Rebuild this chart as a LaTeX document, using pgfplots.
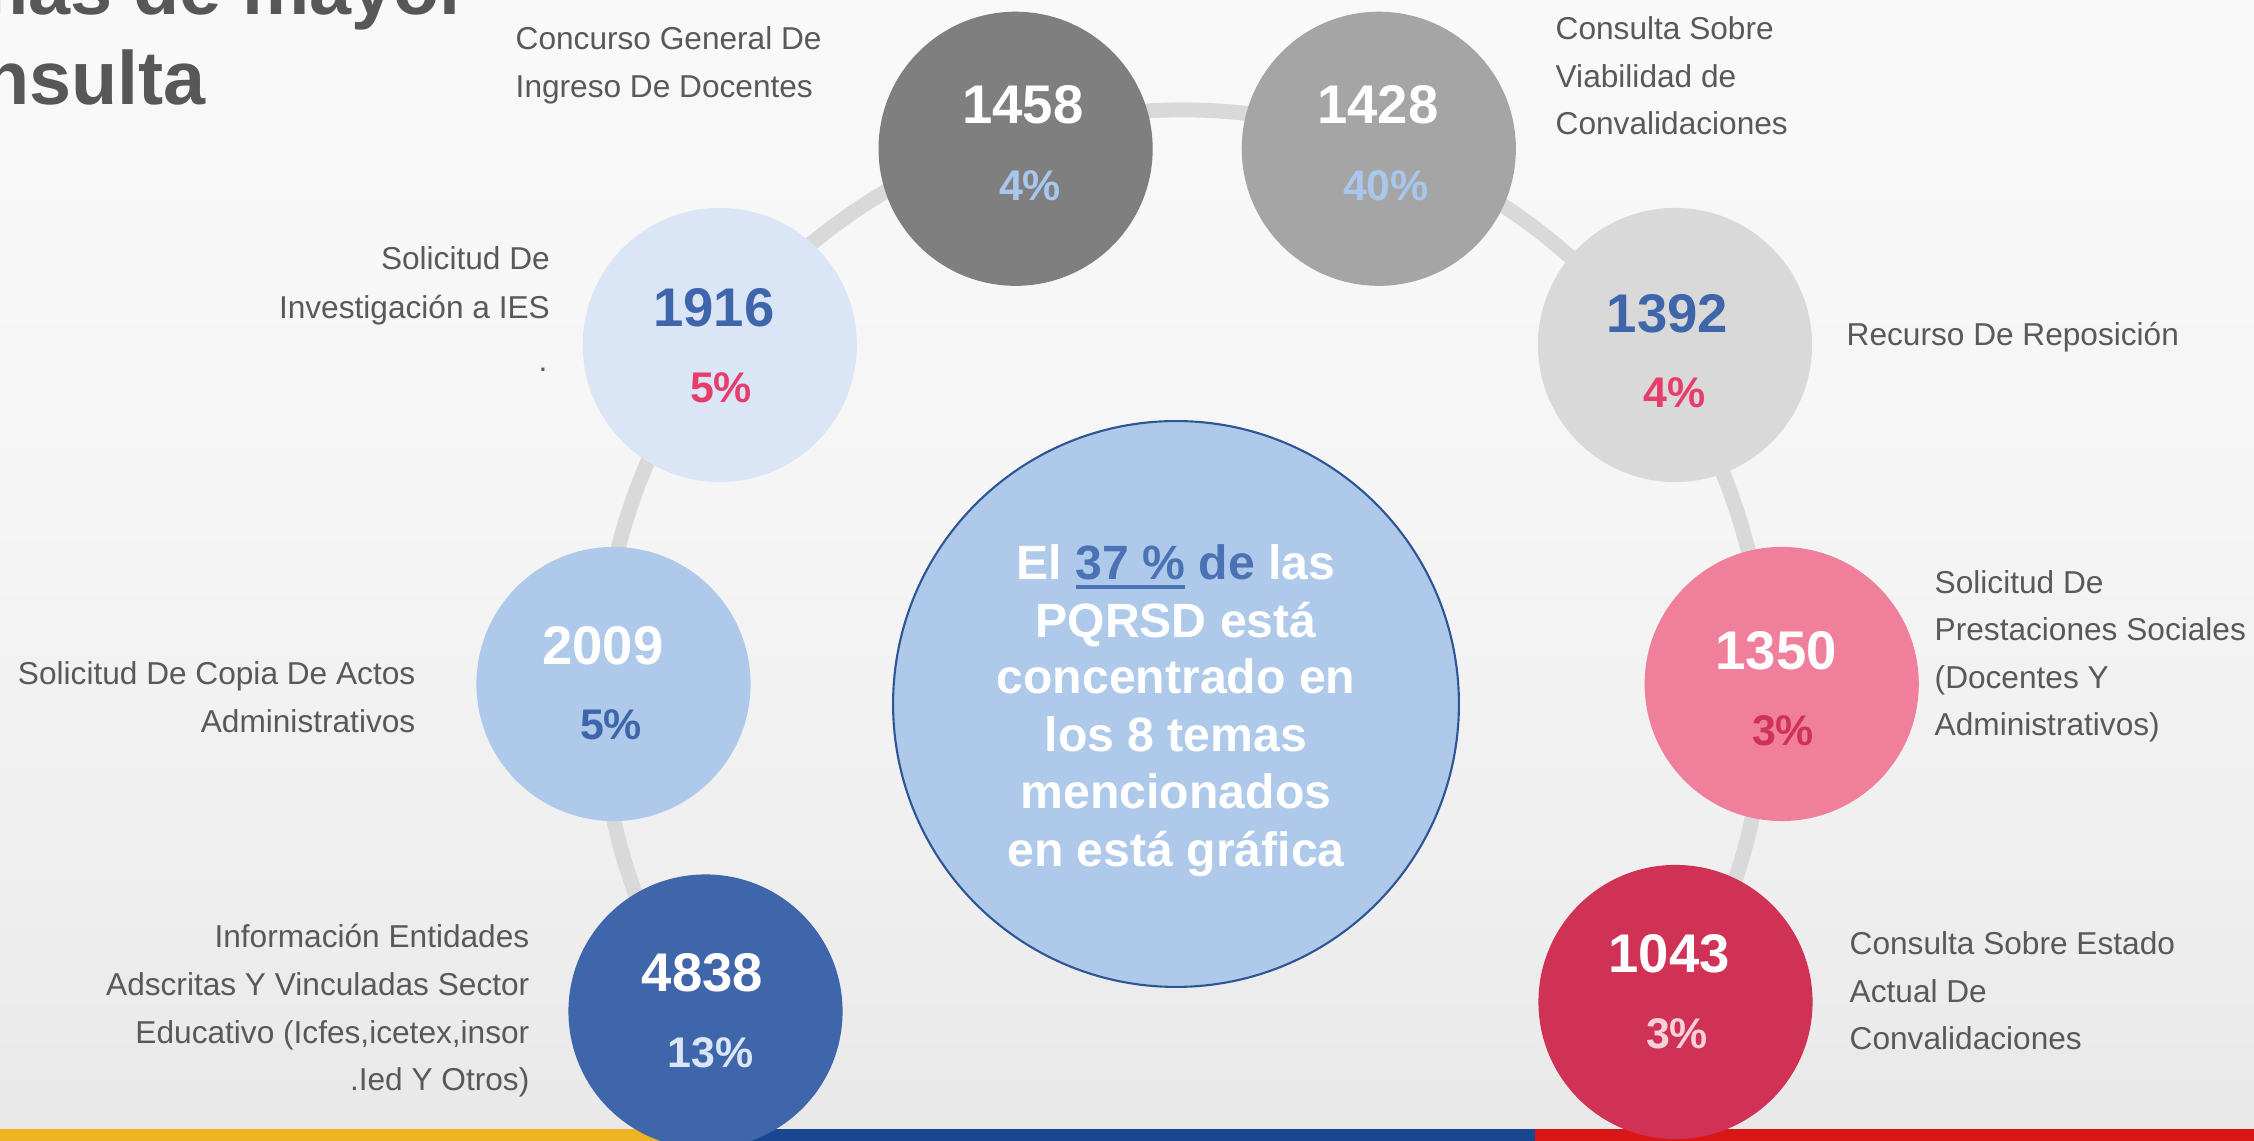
\documentclass[border=0pt]{standalone}
\usepackage{fontspec}
\setmainfont{Liberation Sans}
\usepackage{pgfplots}
\pgfplotsset{compat=1.18}

\definecolor{c1458}{HTML}{7F7F7F}
\definecolor{c1428}{HTML}{A5A5A5}
\definecolor{c1392}{HTML}{D9D9D9}
\definecolor{c1350}{HTML}{F07F9B}
\definecolor{c1043}{HTML}{D03256}
\definecolor{c4838}{HTML}{3F65AA}
\definecolor{c2009}{HTML}{AEC9EA}
\definecolor{c1916}{HTML}{DAE6F5}
\definecolor{ctrfill}{HTML}{AEC9EA}
\definecolor{ctrdraw}{HTML}{2F5597}
\definecolor{ringc}{HTML}{D9D9D9}
\definecolor{pctlb}{HTML}{A9C6EC}
\definecolor{pinkc}{HTML}{E83C6C}
\definecolor{crimc}{HTML}{D03256}
\definecolor{lpink}{HTML}{F8D0DC}
\definecolor{vlblue}{HTML}{DAE6F5}
\definecolor{bluec}{HTML}{3F65AA}
\definecolor{ctrblue}{HTML}{4A72B5}
\definecolor{lblc}{HTML}{595959}
\definecolor{titc}{HTML}{575757}
\definecolor{syel}{HTML}{EFB321}
\definecolor{sblu}{HTML}{1A4590}
\definecolor{sred}{HTML}{D91616}
\definecolor{bgA}{HTML}{D4D4D4}
\definecolor{bgB}{HTML}{DCDCDC}
\definecolor{bgC}{HTML}{E6E6E6}
\definecolor{bgD}{HTML}{EEEEEE}
\definecolor{bgE}{HTML}{F5F5F5}
\definecolor{bgF}{HTML}{F9F9F9}
\definecolor{bgG}{HTML}{FBFBFB}

% 100bp x 100bp shading, stretched over the picture (stops: 0,10,25,40,60,85,114.1 mm)
\pgfdeclareverticalshading{bgv}{100bp}{color(0bp)=(bgA); color(8.76bp)=(bgB); color(21.9bp)=(bgC); color(35.1bp)=(bgD); color(52.6bp)=(bgE); color(74.5bp)=(bgF); color(100bp)=(bgG)}

\newcommand\lblfont{\fontsize{9}{11}\selectfont}
\newcommand\numfont{\fontsize{15.5}{18}\selectfont\bfseries}
\newcommand\pctfont{\fontsize{12.2}{14}\selectfont\bfseries}
\newcommand\ctrfont{\fontsize{13.7}{16.3}\selectfont\bfseries}
\newcommand\titfont{\fontsize{21.5}{25}\selectfont\bfseries}
\newcommand\ul[1]{\vtop{\hbox{#1}\kern1.2pt\hrule height 1.3pt}}

\tikzset{
  lbl/.style={inner sep=0pt, font=\lblfont, text=lblc},
  num/.style={inner sep=0pt, font=\numfont, anchor=center},
  pct/.style={inner sep=0pt, font=\pctfont, anchor=center},
  ctr/.style={inner sep=0pt, font=\ctrfont, text=white, anchor=base}
}

\begin{document}
\begin{tikzpicture}
\fill[shading=bgv] (0,0) rectangle (225.4mm,114.1mm);
\begin{axis}[set layers, at={(0,0)}, anchor=south west, width=225.4mm, height=114.1mm,
  scale only axis, xmin=0, xmax=2254, ymin=0, ymax=1141, y dir=reverse,
  hide axis, clip=true]

% bottom stripes
\addplot[fill=syel, draw=none] coordinates {(0,1129) (719,1129) (719,1142) (0,1142)} -- cycle;
\addplot[fill=sblu, draw=none] coordinates {(719,1129) (1535,1129) (1535,1142) (719,1142)} -- cycle;
\addplot[fill=sred, draw=none] coordinates {(1535,1129) (2255,1129) (2255,1142) (1535,1142)} -- cycle;

% connecting ring (arc from the 4838 circle over the top to the 1043 circle)
\draw[ringc, line width=4.25pt] (axis cs:697.9,1016.4) arc[start angle=213.7, end angle=-32.1, radius=58.3mm];

% topic circles
\addplot[only marks, mark=*, mark size=38.8pt, color=c1458] coordinates {(1015.6,148.8)};
\addplot[only marks, mark=*, mark size=38.8pt, color=c1428] coordinates {(1378.8,148.8)};
\addplot[only marks, mark=*, mark size=38.8pt, color=c1392] coordinates {(1675,345)};
\addplot[only marks, mark=*, mark size=38.8pt, color=c1350] coordinates {(1781.7,684)};
\addplot[only marks, mark=*, mark size=38.8pt, color=c1043] coordinates {(1675.5,1002)};
\addplot[only marks, mark=*, mark size=38.8pt, color=c4838] coordinates {(705.5,1011.5)};
\addplot[only marks, mark=*, mark size=38.8pt, color=c2009] coordinates {(613.5,684)};
\addplot[only marks, mark=*, mark size=38.8pt, color=c1916] coordinates {(719.8,345)};

% central circle
\addplot[only marks, mark=*, mark size=80.5pt, mark options={fill=ctrfill, draw=ctrdraw, line width=0.6pt}] coordinates {(1176,704)};

\begin{pgfonlayer}{axis foreground}
% numbers and percentages
\node[num, text=white] at (axis cs:1023,104.5) {1458};
\node[pct, text=pctlb] at (axis cs:1030,185.5) {4\%};
\node[num, text=white] at (axis cs:1378,104.5) {1428};
\node[pct, text=pctlb] at (axis cs:1386,185.5) {40\%};
\node[num, text=bluec] at (axis cs:1667.5,314) {1392};
\node[pct, text=pinkc] at (axis cs:1674.7,392.4) {4\%};
\node[num, text=white] at (axis cs:1776,651) {1350};
\node[pct, text=crimc] at (axis cs:1783,731) {3\%};
\node[num, text=white] at (axis cs:1669,954) {1043};
\node[pct, text=lpink] at (axis cs:1677,1033.7) {3\%};
\node[num, text=white] at (axis cs:702.4,973.3) {4838};
\node[pct, text=vlblue] at (axis cs:710.4,1052.8) {13\%};
\node[num, text=white] at (axis cs:603,646) {2009};
\node[pct, text=bluec] at (axis cs:611,725) {5\%};
\node[num, text=bluec] at (axis cs:714,308) {1916};
\node[pct, text=pinkc] at (axis cs:721,388) {5\%};

% central text
\node[ctr] at (axis cs:1176,579.9) {El {\color{ctrblue}\ul{37 \%} de} las};
\node[ctr] at (axis cs:1176,637.3) {PQRSD está};
\node[ctr] at (axis cs:1176,694) {concentrado en};
\node[ctr] at (axis cs:1176,751.5) {los 8 temas};
\node[ctr] at (axis cs:1176,809) {mencionados};
\node[ctr] at (axis cs:1176,866.1) {en está gráfica};

% labels, right side (left aligned)
\node[lbl, anchor=base west] at (axis cs:515,50) {Concurso General De};
\node[lbl, anchor=base west] at (axis cs:515,97.7) {Ingreso De Docentes};
\node[lbl, anchor=base west] at (axis cs:1555,40) {Consulta Sobre};
\node[lbl, anchor=base west] at (axis cs:1555,87.7) {Viabilidad de};
\node[lbl, anchor=base west] at (axis cs:1555,135) {Convalidaciones};
\node[lbl, anchor=base west] at (axis cs:1846,345.7) {Recurso De Reposición};
\node[lbl, anchor=base west] at (axis cs:1934,594) {Solicitud De};
\node[lbl, anchor=base west] at (axis cs:1934,641) {Prestaciones Sociales};
\node[lbl, anchor=base west] at (axis cs:1934,688.5) {(Docentes Y};
\node[lbl, anchor=base west] at (axis cs:1934,736) {Administrativos)};
\node[lbl, anchor=base west] at (axis cs:1849,955) {Consulta Sobre Estado};
\node[lbl, anchor=base west] at (axis cs:1849,1002.5) {Actual De};
\node[lbl, anchor=base west] at (axis cs:1849,1050) {Convalidaciones};

% labels, left side (right aligned)
\node[lbl, anchor=base east] at (axis cs:530,947.3) {Información Entidades};
\node[lbl, anchor=base east] at (axis cs:530,995.7) {Adscritas Y Vinculadas Sector};
\node[lbl, anchor=base east] at (axis cs:530,1043.3) {Educativo (Icfes,icetex,insor};
\node[lbl, anchor=base east] at (axis cs:530,1090.7) {.Ied Y Otros)};
\node[lbl, anchor=base east] at (axis cs:416,685) {Solicitud De Copia De Actos};
\node[lbl, anchor=base east] at (axis cs:416,732.7) {Administrativos};
\node[lbl, anchor=base east] at (axis cs:550.5,270) {Solicitud De};
\node[lbl, anchor=base east] at (axis cs:550.5,318.3) {Investigación a IES};
\node[lbl, anchor=base east] at (axis cs:548,371.7) {.};

% title (partly outside the picture, as in the reference)
\node[inner sep=0pt, font=\titfont, text=titc, anchor=base east] at (axis cs:470,15) {Temas de mayor};
\node[inner sep=0pt, font=\titfont, text=titc, anchor=base east] at (axis cs:206.5,105) {consulta};
\end{pgfonlayer}
\end{axis}
\pgfresetboundingbox
\path[use as bounding box] (0,0) rectangle (225.4mm,114.1mm);
\end{tikzpicture}
\end{document}
